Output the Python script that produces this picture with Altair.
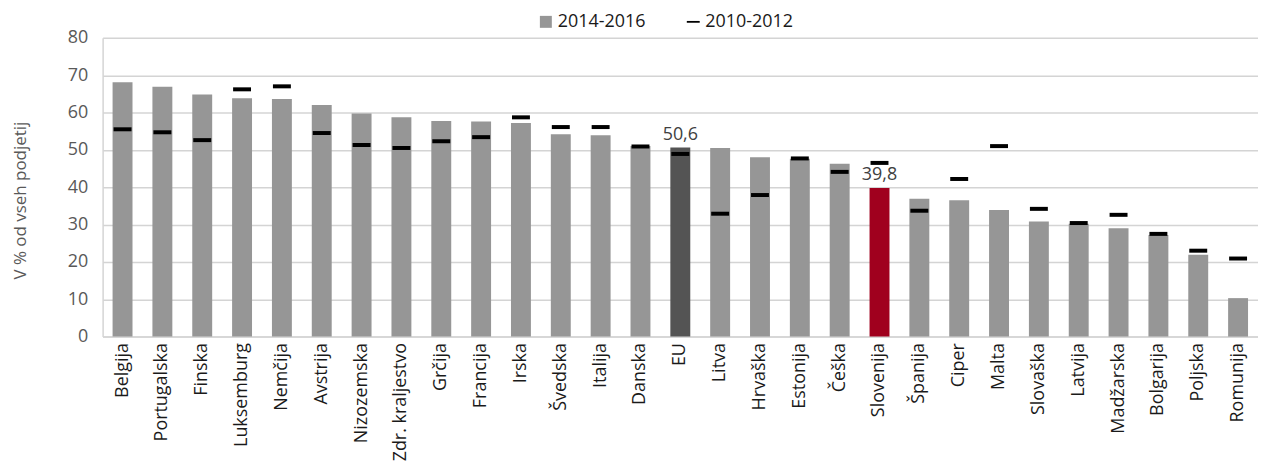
import altair as alt
import pandas as pd

countries = ["Belgija", "Portugalska", "Finska", "Luksemburg", "Nemčija", "Avstrija",
             "Nizozemska", "Zdr. kraljestvo", "Grčija", "Francija", "Irska", "Švedska",
             "Italija", "Danska", "EU", "Litva", "Hrvaška", "Estonija", "Češka",
             "Slovenija", "Španija", "Ciper", "Malta", "Slovaška", "Latvija",
             "Madžarska", "Bolgarija", "Poljska", "Romunija"]
v_2014_2016 = [68.1, 66.9, 64.8, 63.8, 63.6, 62.0, 59.7, 58.7, 57.7, 57.6, 57.2, 54.2,
               53.9, 51.0, 50.6, 50.5, 48.0, 47.6, 46.3, 39.8, 36.9, 36.5, 33.9, 30.8,
               30.2, 29.0, 27.2, 21.9, 10.3]
v_2010_2012 = [55.5, 54.7, 52.6, 66.2, 67.0, 54.5, 51.3, 50.5, 52.3, 53.4, 58.7, 56.1,
               56.1, 50.9, 48.9, 32.9, 37.9, 47.7, 44.1, 46.5, 33.7, 42.2, 51.0, 34.2,
               30.4, 32.6, 27.5, 23.0, 20.9]
series = ["2014-2016", "2010-2012"]
highlighted = ["EU", "Slovenija"]

rows = []
for c, a, b in zip(countries, v_2014_2016, v_2010_2012):
    grp = c if c in highlighted else "ostalo"
    lab = f"{a:.1f}".replace(".", ",") if c in highlighted else ""
    rows.append({"drzava": c, "serija": series[0], "vrednost": a, "skupina": grp, "oznaka": lab})
    rows.append({"drzava": c, "serija": series[1], "vrednost": b, "skupina": grp, "oznaka": ""})
df = pd.DataFrame(rows)

grid_col = "#d4d4d4"

x = alt.X("drzava:N", sort=countries,
          scale=alt.Scale(paddingInner=0, paddingOuter=0),
          axis=alt.Axis(title=None, labelAngle=-90, labelAlign="right", labelBaseline="middle",
                        labelFontSize=18, labelColor="#1a1a1a", labelPadding=6, ticks=False,
                        domainColor=grid_col, domainWidth=1.5, grid=False))
y = alt.Y("vrednost:Q", scale=alt.Scale(domain=[0, 80], nice=False),
          axis=alt.Axis(values=[0, 10, 20, 30, 40, 50, 60, 70, 80],
                        title="V % od vseh podjetij", titleFontSize=17, titleFontWeight="normal",
                        titleColor="#595959", titleAngle=270, titleX=-82, titleY=163,
                        titleAlign="center", titleBaseline="middle",
                        labelFontSize=18, labelColor="#595959", labelPadding=15, ticks=False,
                        domainColor=grid_col, domainWidth=1.5,
                        gridColor=grid_col, gridWidth=1.5))

base = alt.Chart(df)

bars = base.transform_filter(alt.datum.serija == series[0]).mark_bar(size=20).encode(
    x=x, y=y,
    color=alt.Color("skupina:N",
                    scale=alt.Scale(domain=["ostalo", "EU", "Slovenija"],
                                    range=["#969696", "#545454", "#A0001E"]),
                    legend=None))

ticks = base.transform_filter(alt.datum.serija == series[1]).mark_tick(
    color="black", thickness=4, size=18, opacity=1).encode(x=x, y=y)

labels = base.transform_filter(alt.datum.oznaka != "").mark_text(
    baseline="bottom", dy=-4, fontSize=18, color="#404040").encode(
    x=x, y=y, text="oznaka:N")

dash = "M-1.08,-0.15H1.08V0.15H-1.08Z"
leg = alt.Legend(title=None, orient="none", legendX=436, legendY=-25, direction="horizontal",
                 labelFontSize=18, labelColor="#1a1a1a", symbolSize=144, symbolOpacity=1,
                 symbolStrokeWidth=0, labelOffset=3, columnPadding=38, padding=0)
legend_layer = base.mark_point(filled=True).encode(
    x=x, y=y,
    opacity=alt.value(0),
    shape=alt.Shape("serija:N", scale=alt.Scale(domain=series, range=["square", dash]), legend=leg),
    fill=alt.Fill("serija:N", scale=alt.Scale(domain=series, range=["#969696", "#000000"]), legend=leg))

chart = alt.layer(bars, ticks, labels, legend_layer).properties(
    width=1160, height=300,
    padding={"left": 4, "top": 4, "right": 0, "bottom": 0}
).configure(font="Open Sans").configure_view(stroke=None)

chart.save("out.html", embed_options={"renderer": "svg", "actions": False})
